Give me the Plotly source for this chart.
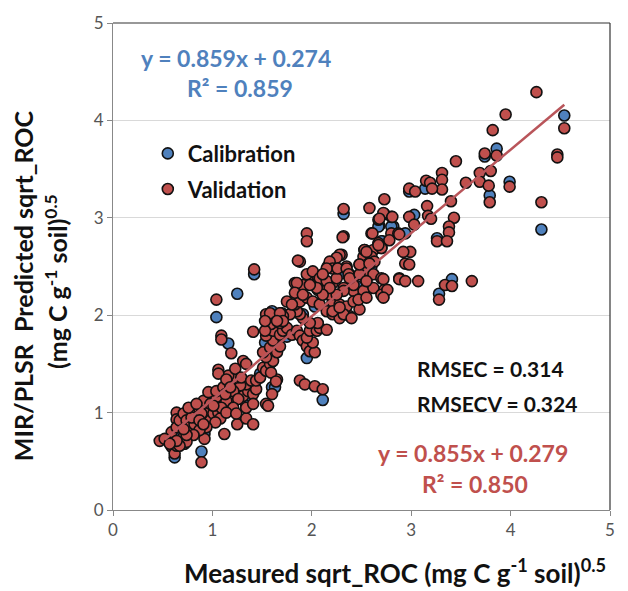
import plotly.graph_objects as go

# ---------------- data ----------------
val_x = [
    0.47, 0.59, 0.62, 0.64, 0.71, 0.64, 0.64, 0.74, 0.71, 0.72, 0.89, 0.92, 1.12, 1.25, 1.34, 1.41,
    0.59, 0.64, 0.67, 0.71, 0.74, 0.77, 0.82, 0.84, 0.81, 0.87, 0.91, 0.94, 0.98, 1.01, 1.06, 1.08,
    1.03, 0.94, 0.87, 0.81, 0.74, 0.67, 0.64, 0.74, 0.71, 0.79, 0.89, 0.91, 0.98, 1.06, 1.11, 1.16,
    1.21, 1.26, 1.31, 1.36, 1.41, 1.44, 1.34, 1.28, 1.21, 1.14, 1.09, 1.04, 0.96, 1.04, 1.11, 1.19,
    1.24, 1.16, 1.23, 1.31, 1.34, 1.06, 1.06, 1.14, 1.26, 1.34, 1.41, 1.21, 1.14, 1.24,
    0.52, 0.57, 0.76, 0.84, 0.87, 0.91, 1.01, 1.13, 1.18, 1.29, 1.39, 1.44,
    1.04, 1.09, 1.09, 1.19, 1.41,
    1.48, 1.51, 1.54, 1.58, 1.61, 1.54, 1.51, 1.58, 1.65, 1.68, 1.61, 1.54, 1.61, 1.68, 1.71, 1.75,
    1.80, 1.85, 1.88, 1.91, 1.95, 1.98, 2.03, 2.01, 1.95, 1.98, 2.05, 2.08, 2.15, 2.06, 1.98, 1.91,
    1.88, 1.85, 1.78, 1.71, 1.63, 1.58, 1.54, 1.59, 1.53, 1.68, 1.83, 1.88, 1.95, 2.01, 2.08, 2.15,
    2.21, 2.28, 2.38, 2.21, 2.18, 2.11, 2.05, 1.91, 1.83, 2.01, 2.21, 2.32, 2.42, 2.52, 2.55, 2.72,
    2.73, 2.28, 2.35, 2.42, 2.48,
    1.88, 1.93, 2.03, 2.11, 1.54, 1.56, 1.60, 1.65, 1.59, 1.64,
    1.85, 2.00, 2.06, 1.83, 1.75, 1.80, 1.58, 1.68, 1.71, 1.65, 1.53,
    1.88, 1.95, 2.01, 2.08, 2.15, 2.21, 2.16, 2.25, 2.30, 2.35, 2.38, 2.42, 2.32, 2.25, 2.18, 2.11,
    2.05, 1.98, 1.91, 2.21, 2.32, 2.40, 2.28, 2.52, 2.47, 2.55, 2.62,
    2.73, 2.80, 2.67, 2.60, 2.80, 2.87, 2.78, 2.67, 2.70, 2.62, 2.53, 2.52, 2.60, 2.48, 2.57, 2.63,
    2.53, 2.32, 2.28, 2.25, 2.18, 2.21, 2.15, 2.11, 2.26, 2.35, 2.37, 2.38, 2.48, 2.62, 2.70, 2.88,
    2.94, 2.99,
    4.26, 3.95, 4.54, 3.82, 3.74, 3.86, 4.47, 4.47, 3.45, 3.31, 3.31, 3.31, 3.15, 3.19, 3.21, 2.98,
    3.04, 3.55, 3.69, 3.69, 3.80, 3.78, 3.79, 3.99, 3.40, 4.31, 2.73, 2.58, 2.32, 2.72, 2.81, 2.68,
    3.16, 3.17, 3.20, 2.98, 3.03, 3.43, 3.38, 3.38, 3.26, 3.36, 2.88, 2.61, 2.31, 1.95, 1.95, 2.53,
    2.55, 2.70, 2.67, 2.92, 2.98, 2.72, 2.88, 2.94, 3.07, 3.28, 3.34, 3.41, 3.61, 2.70, 2.76, 2.72,
    2.55, 2.48, 2.58, 1.86, 1.42,
]
val_y = [
    0.71, 0.65, 0.58, 0.66, 0.68, 1.00, 0.93, 0.99, 0.75, 0.68, 0.49, 0.73, 0.78, 0.88, 0.94, 0.88,
    0.80, 0.85, 0.92, 0.99, 0.92, 0.85, 0.88, 0.95, 1.02, 1.04, 1.07, 0.99, 0.92, 0.99, 1.00, 0.94,
    0.90, 0.85, 0.82, 0.77, 0.70, 0.66, 0.71, 0.77, 0.83, 0.95, 0.99, 1.12, 1.09, 1.09, 1.14, 1.17,
    1.16, 1.19, 1.17, 1.22, 1.19, 1.24, 1.29, 1.28, 1.22, 1.12, 1.05, 1.16, 1.21, 1.22, 1.26, 1.33,
    1.36, 1.38, 1.45, 1.53, 1.50, 1.44, 1.40, 1.34, 1.14, 1.05, 1.09, 1.05, 1.00, 0.99,
    0.73, 0.68, 1.05, 1.09, 0.92, 0.88, 1.07, 1.19, 1.26, 1.36, 1.33, 1.33,
    2.16, 1.79, 1.75, 1.61, 1.83,
    1.36, 1.46, 1.43, 1.50, 1.53, 1.57, 1.62, 1.67, 1.62, 1.68, 1.74, 1.79, 1.84, 1.80, 1.84, 1.87,
    1.80, 1.84, 1.79, 1.74, 1.68, 1.63, 1.62, 1.72, 1.77, 1.84, 1.84, 1.87, 1.85, 1.92, 1.92, 1.97,
    2.01, 2.04, 2.01, 1.99, 1.94, 1.99, 2.01, 1.91, 1.84, 1.92, 2.11, 2.14, 2.18, 2.14, 2.11, 2.04,
    2.01, 1.97, 1.99, 2.14, 2.21, 2.25, 2.28, 2.31, 2.33, 2.35, 2.33, 2.28, 2.25, 2.19, 2.28, 2.19,
    2.26, 2.11, 2.09, 2.14, 2.06,
    1.33, 1.29, 1.27, 1.24, 1.09, 1.07, 1.19, 1.34, 1.41, 1.32,
    2.33, 2.42, 2.40, 2.23, 2.14, 2.11, 2.02, 2.02, 1.94, 1.94, 1.94,
    2.55, 2.42, 2.45, 2.38, 2.35, 2.52, 2.50, 2.38, 2.62, 2.50, 2.42, 2.31, 2.25, 2.21, 2.28, 2.21,
    2.28, 2.31, 2.21, 2.04, 2.01, 1.97, 2.08, 2.25, 2.16, 2.18, 2.28,
    3.04, 3.01, 2.98, 2.84, 2.84, 2.84, 2.77, 2.74, 2.69, 2.67, 2.67, 2.60, 2.60, 2.52, 2.53, 2.55,
    2.45, 2.81, 2.62, 2.59, 2.55, 2.48, 2.48, 2.42, 2.48, 2.48, 2.42, 2.38, 2.42, 2.42, 2.38, 2.38,
    2.53, 2.65,
    4.29, 4.06, 3.92, 3.90, 3.66, 3.64, 3.65, 3.62, 3.58, 3.46, 3.39, 3.29, 3.38, 3.36, 3.30, 3.30,
    3.27, 3.36, 3.46, 3.37, 3.48, 3.33, 3.16, 3.32, 3.17, 3.16, 3.19, 3.10, 3.09, 3.05, 3.01, 2.99,
    3.12, 3.02, 2.99, 3.01, 2.93, 3.00, 2.91, 2.85, 2.76, 2.76, 2.83, 2.84, 2.80, 2.84, 2.76, 2.67,
    2.65, 2.69, 2.72, 2.65, 2.52, 2.37, 2.37, 2.35, 2.35, 2.16, 2.31, 2.30, 2.35, 2.21, 2.26, 2.18,
    2.35, 2.52, 2.53, 2.56, 2.47,
]

cal_x = [
    4.54, 3.74, 3.86, 2.98, 3.14, 3.79, 3.99, 4.31, 2.32, 2.68, 3.03, 3.26, 2.82, 2.71, 3.28, 3.41,
    1.42, 1.25, 1.04, 1.16, 0.62, 0.89, 0.92, 1.60, 1.95, 2.11, 1.55, 1.63, 1.60, 1.70, 1.68, 2.06,
    2.31, 2.55, 2.03, 1.70, 1.53, 1.91, 0.76, 1.39, 1.11, 1.34, 0.77, 2.67, 2.80, 2.94, 2.70,
    0.66, 0.80, 0.98, 1.20, 1.48, 1.75, 2.20, 2.45, 2.60, 0.55, 0.85, 1.30,
]
cal_y = [
    4.05, 3.63, 3.71, 3.27, 3.30, 3.23, 3.37, 2.88, 3.04, 2.92, 3.03, 2.79, 2.91, 2.76, 2.22, 2.37,
    2.42, 2.22, 1.98, 1.71, 0.54, 0.60, 0.78, 1.26, 1.56, 1.13, 1.70, 1.26, 2.04, 2.01, 2.02, 2.26,
    2.43, 2.36, 2.09, 2.02, 1.72, 2.01, 1.04, 1.16, 1.12, 1.07, 1.04, 2.91, 2.91, 2.84, 2.76,
    0.74, 0.86, 1.00, 1.25, 1.40, 1.78, 2.10, 2.30, 2.50, 0.72, 0.95, 1.20,
]

line_x = [0.52, 4.54]
slope_v, icpt_v = 0.855, 0.279
line_y = [slope_v * v + icpt_v for v in line_x]

tick_vals = [0, 1, 2, 3, 4, 5]

RED = "#C0504D"
BLUE = "#4F81BD"
FONT = "Lato"

fig = go.Figure()
fig.add_trace(go.Scatter(
    x=cal_x, y=cal_y, mode="markers", name="<b>Calibration</b>", legendgroup="c",
    marker=dict(size=11, color=BLUE, line=dict(color="#111111", width=1.6)),
))
fig.add_trace(go.Scatter(
    x=val_x, y=val_y, mode="markers", name="<b>Validation</b>", legendgroup="v",
    marker=dict(size=11, color=RED, line=dict(color="#111111", width=1.6)),
))
fig.add_trace(go.Scatter(
    x=line_x, y=line_y, mode="lines", showlegend=False,
    line=dict(color="#B9555A", width=2.5),
))

axis_common = dict(
    range=[0, 5], tickvals=tick_vals, ticks="outside", ticklen=5, tickcolor="#888888",
    showline=True, linecolor="#888888", linewidth=1, zeroline=False,
    tickfont=dict(family=FONT, size=17, color="#555555"),
)
fig.update_xaxes(showgrid=False, **axis_common)
fig.update_yaxes(showgrid=True, gridcolor="#D9D9D9", gridwidth=1, **axis_common)

ann = []
ann.append(dict(x=1.236, y=4.64, xref="x", yref="y", text="<b>y = 0.859x + 0.274</b>",
                showarrow=False, font=dict(family=FONT, size=23, color=BLUE)))
ann.append(dict(x=1.276, y=4.33, xref="x", yref="y", text="<b>R² = 0.859</b>",
                showarrow=False, font=dict(family=FONT, size=23, color=BLUE)))
ann.append(dict(x=3.04, y=1.45, xref="x", yref="y", xanchor="left", text="<b>RMSEC = 0.314</b>",
                showarrow=False, font=dict(family=FONT, size=21, color="#111111")))
ann.append(dict(x=3.04, y=1.09, xref="x", yref="y", xanchor="left", text="<b>RMSECV = 0.324</b>",
                showarrow=False, font=dict(family=FONT, size=21, color="#111111")))
ann.append(dict(x=3.618, y=0.59, xref="x", yref="y", text="<b>y = 0.855x + 0.279</b>",
                showarrow=False, font=dict(family=FONT, size=23, color=RED)))
ann.append(dict(x=3.638, y=0.265, xref="x", yref="y", text="<b>R² = 0.850</b>",
                showarrow=False, font=dict(family=FONT, size=23, color=RED)))
ann.append(dict(x=0.567, y=-0.167, xref="paper", yref="paper",
                text="<b>Measured sqrt_ROC (mg C g<sup>-1</sup> soil)<sup>0.5</sup></b>",
                showarrow=False, font=dict(family=FONT, size=26, color="#111111")))
ann.append(dict(x=-0.215, y=0.46, xref="paper", yref="paper", textangle=-90,
                text="<b>MIR/PLSR  Predicted sqrt_ROC</b>",
                showarrow=False, font=dict(family=FONT, size=25, color="#111111")))
ann.append(dict(x=-0.152, y=0.47, xref="paper", yref="paper", textangle=-90,
                text="<b>(mg C g<sup>-1</sup> soil)<sup>0.5</sup></b>",
                showarrow=False, font=dict(family=FONT, size=25, color="#111111")))

shapes = [
    dict(type="line", xref="paper", yref="paper", x0=0, x1=1, y0=1, y1=1,
         line=dict(color="#333333", width=1.2)),
    dict(type="line", xref="paper", yref="paper", x0=1, x1=1, y0=0, y1=1,
         line=dict(color="#333333", width=1.2)),
]

fig.update_layout(
    width=628, height=591,
    margin=dict(l=113, r=18, t=20, b=81),
    paper_bgcolor="white", plot_bgcolor="white",
    annotations=ann, shapes=shapes,
    legend=dict(x=0.07, y=0.775, xanchor="left", yanchor="top", bgcolor="rgba(0,0,0,0)",
                font=dict(family=FONT, size=22, color="#111111"), tracegroupgap=4,
                itemwidth=30),
    font=dict(family=FONT),
)

fig.write_html("out.html")
